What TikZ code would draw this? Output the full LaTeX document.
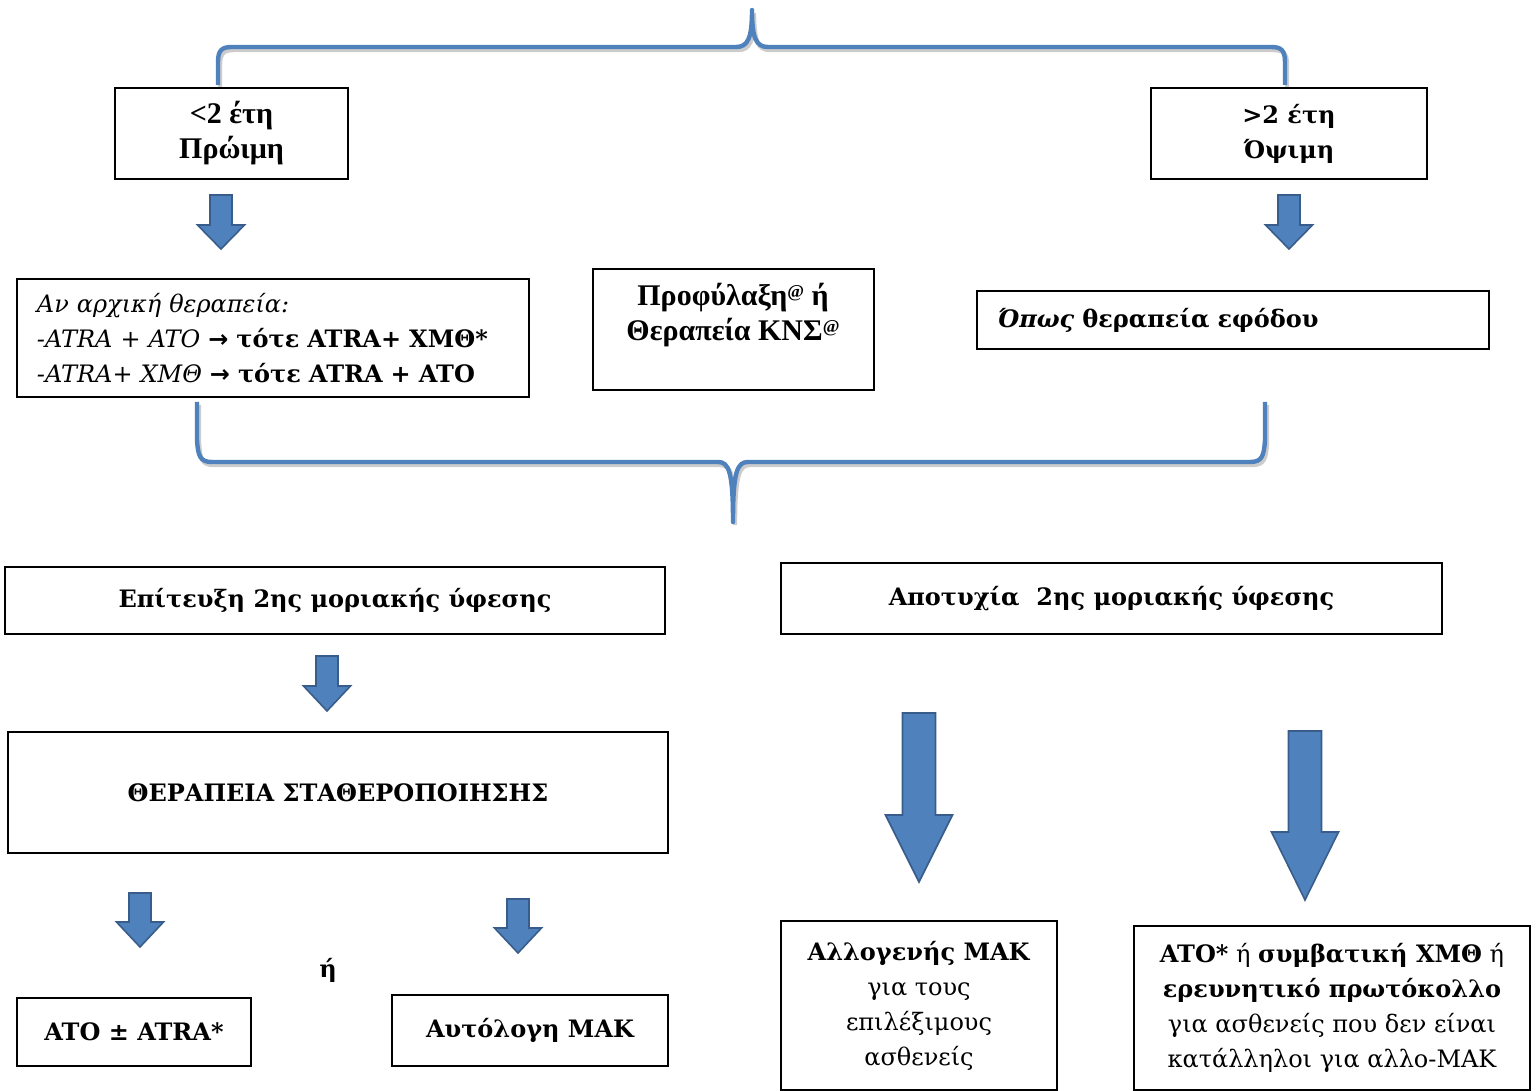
\documentclass[tikz,border=0pt]{standalone}
\usepackage{fontspec}
\setmainfont{DejaVu Serif}
\newfontfamily\tnr{Liberation Serif}
\newfontfamily\symb{DejaVu Sans}
\usepackage{tikz}
\usetikzlibrary{positioning}

\definecolor{ArrowBlue}{HTML}{4F81BD}
\definecolor{ArrowEdge}{HTML}{385D8A}

% block arrow: x, top, tip, body half width, head half width, head length
\newcommand{\BlockArrow}[6]{%
  \filldraw[Arrow] (#1-#4,#2) -- (#1+#4,#2) -- (#1+#4,#3-#6) -- (#1+#5,#3-#6)
    -- (#1,#3) -- (#1-#5,#3-#6) -- (#1-#4,#3-#6) -- cycle;}
\newcommand{\arr}{{\symb\bfseries →}}
\newcommand{\at}{\raisebox{0.6ex}{\fontsize{9}{9}\selectfont @}}

\begin{document}
\begin{tikzpicture}[x=0.5pt,y=-0.5pt]
		\tikzstyle{Box}		= [draw, line width=0.8pt, fill=white, inner sep=0pt, align=center, font=\fontsize{12}{17.5}\selectfont]
		\tikzstyle{Bold}	= [font=\fontsize{12}{17.5}\selectfont\bfseries]
		\tikzstyle{Times}	= [font=\tnr\fontsize{15}{17.5}\selectfont\bfseries]
		\tikzstyle{Arrow}	= [fill=ArrowBlue, draw=ArrowEdge, line width=0.8pt, line join=miter]
		\tikzstyle{Brace}	= [line width=2.2pt, ArrowBlue, line join=round,
			preaction={draw, gray!40, line width=2.2pt, transform canvas={shift={(1pt,-1.5pt)}}}]
		
		\useasboundingbox (0,0) rectangle (1539,1091);
		
		% braces
		\draw [Brace] (218,85) -- (218,62) .. controls (218,50) and (222,47) .. (232,47)
			-- (736,47) .. controls (748,47) and (752,38) .. (752,10)
			.. controls (752,38) and (756,47) .. (768,47)
			-- (1271,47) .. controls (1281,47) and (1285,50) .. (1285,62) -- (1285,85);
		\draw [Brace] (197,402) -- (197,440) .. controls (198,456) and (200,462) .. (212,462)
			-- (718,462) .. controls (729,462) and (733,472) .. (733,522)
			.. controls (733,472) and (737,462) .. (748,462)
			-- (1250,462) .. controls (1262,462) and (1264,456) .. (1265,440) -- (1265,402);
		
		% first row
		\node (early) at (231.5,133.5) [Box, Times, minimum width=116.5pt, minimum height=45.5pt] {<2 έτη\\Πρώιμη};
		\node (late) at (1289,133.5) [Box, Bold, minimum width=138pt, minimum height=45.5pt] {>2 έτη\\Όψιμη};
		
		\BlockArrow{221}{195}{249}{11}{23.5}{24}
		\BlockArrow{1289}{195}{249}{11}{23.5}{24}
		
		% second row
		\node (first) at (273,338) [Box, minimum width=256pt, minimum height=59pt, text width=236pt, align=left]
			{\textit{Αν αρχική θεραπεία:}\\
			 \textit{-ATRA + ATO} \arr\ \textbf{τότε ATRA+ ΧΜΘ*}\\
			 \textit{-ATRA+ ΧΜΘ} \arr\ \textbf{τότε ATRA + ATO}};
		\node (proph) at (733.5,329.5) [Box, minimum width=140.5pt, minimum height=60.5pt] {};
		\node (proph-t) at (733,315) [Times, align=center] {Προφύλαξη\at{} ή\\Θεραπεία ΚΝΣ\at};
		\node (induct) at (1233,320) [Box, Bold, minimum width=256pt, minimum height=29pt, text width=235pt, align=left]
			{\textit{Όπως} θεραπεία εφόδου};
		
		% third row
		\node (success) at (335,600.5) [Box, Bold, minimum width=330pt, minimum height=33.5pt] {Επίτευξη 2ης μοριακής ύφεσης};
		\node (fail) at (1111.5,598.5) [Box, Bold, minimum width=330.5pt, minimum height=35.5pt] {Αποτυχία\ \ 2ης μοριακής ύφεσης};
		
		\BlockArrow{327}{656}{711}{11}{23.5}{25}
		
		\node (consol) at (338,792.5) [Box, Bold, minimum width=330pt, minimum height=60.5pt] {ΘΕΡΑΠΕΙΑ ΣΤΑΘΕΡΟΠΟΙΗΣΗΣ};
		
		\BlockArrow{140}{893}{947}{11}{23.5}{25}
		\BlockArrow{518}{899}{953}{11}{23.5}{25}
		\BlockArrow{919}{713}{882}{16.5}{33.5}{67}
		\BlockArrow{1305}{731}{900}{16.5}{33.5}{68}
		
		\node (or) at (328,970) [Bold] {ή};
		
		% last row
		\node (ato) at (134,1032) [Box, Bold, minimum width=117pt, minimum height=34pt] {ATO ± ATRA*};
		\node (auto) at (530,1030.5) [Box, Bold, minimum width=138pt, minimum height=35.5pt] {Αυτόλογη ΜΑΚ};
		\node (allo) at (919,1005.5) [Box, minimum width=138pt, minimum height=84.5pt]
			{\textbf{Αλλογενής ΜΑΚ}\\για τους\\επιλέξιμους\\ασθενείς};
		\node (salvage) at (1332,1008) [Box, minimum width=198pt, minimum height=82pt]
			{\textbf{ATO*} ή \textbf{συμβατική ΧΜΘ} ή\\\textbf{ερευνητικό πρωτόκολλο}\\για ασθενείς που δεν είναι\\κατάλληλοι για αλλο-ΜΑΚ};
	\end{tikzpicture}
\end{document}
